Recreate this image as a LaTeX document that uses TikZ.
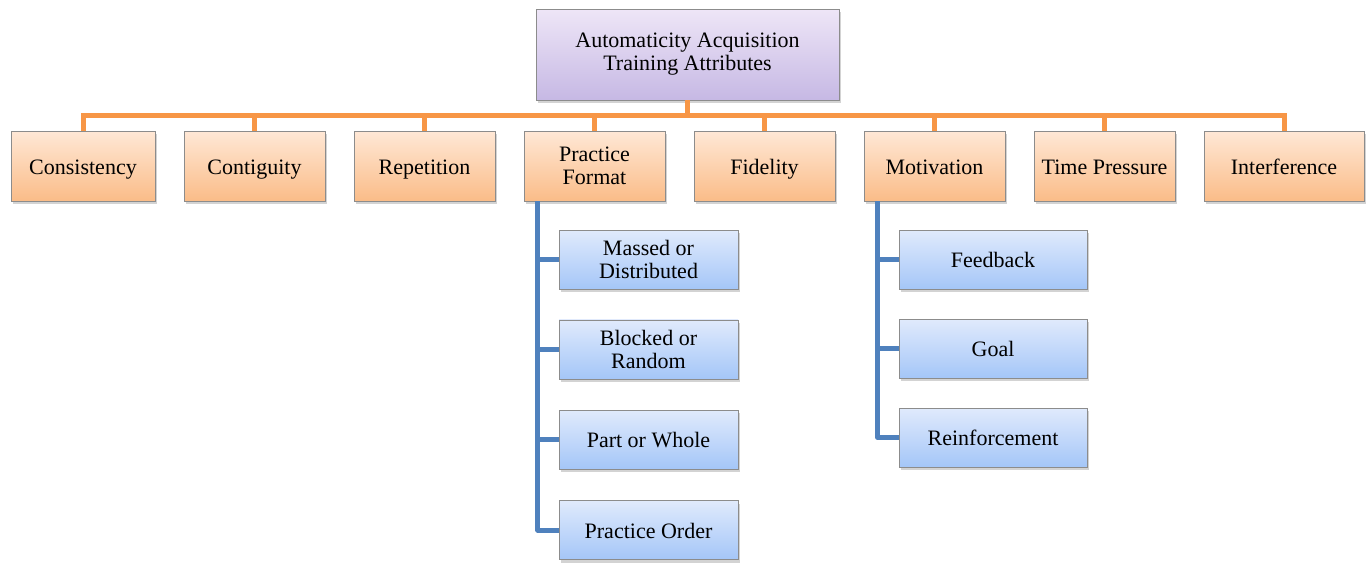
\documentclass[tikz,border=0pt]{standalone}
\usepackage{fontspec}
\setmainfont{Liberation Serif}
\usetikzlibrary{shapes, shadows, positioning}
\definecolor{rootTop}{RGB}{238,230,247}
\definecolor{rootBot}{RGB}{198,184,228}
\definecolor{attrTop}{RGB}{255,232,214}
\definecolor{attrBot}{RGB}{250,188,136}
\definecolor{subTop}{RGB}{224,234,252}
\definecolor{subBot}{RGB}{164,198,248}
\definecolor{branchOrange}{RGB}{247,150,70}
\definecolor{branchBlue}{RGB}{79,129,189}
\tikzstyle{box} = [draw=black!45, rectangle, align=center, inner sep=2pt,
    drop shadow={shadow xshift=2pt, shadow yshift=-3pt, opacity=0.35},
    font=\fontsize{22}{23}\selectfont]
\tikzstyle{root} = [box, top color=rootTop, bottom color=rootBot,
    minimum width=303pt, minimum height=91pt]
\tikzstyle{attr} = [box, top color=attrTop, bottom color=attrBot,
    minimum width=141pt, minimum height=70pt]
\tikzstyle{sub} = [box, top color=subTop, bottom color=subBot,
    minimum width=179pt, minimum height=59pt]
\tikzstyle{oneline} = [text height=18pt, text depth=2pt]
\tikzstyle{orangeline} = [draw=branchOrange, line width=5pt]
\tikzstyle{blueline} = [draw=branchBlue, line width=5pt, line join=round]

\begin{document}
\begin{tikzpicture}[auto, x=1pt, y=1pt, node distance=28.6pt]
    \useasboundingbox (0,0) rectangle (1369,-563);
    % root
    \node [root] (root) at (687.5,-54.5) {Automaticity Acquisition\\Training Attributes};
    % attributes
    \node [attr, oneline, minimum width=144pt] (cons) at (83,-166) {Consistency};
    \node [attr, oneline, right=of cons] (contig) {Contiguity};
    \node [attr, oneline, right=of contig] (rep) {Repetition};
    \node [attr, right=of rep] (format) {Practice\\Format};
    \node [attr, oneline, right=of format] (fid) {Fidelity};
    \node [attr, oneline, right=of fid] (motiv) {Motivation};
    \node [attr, oneline, right=of motiv] (time) {Time Pressure};
    \node [attr, oneline, right=of time, minimum width=160pt] (inter) {Interference};
    % practice format
    \node [sub, below right=29pt and 35pt of format.south west] (massed) {Massed or\\Distributed};
    \node [sub, below=30pt of massed] (blocked) {Blocked or\\Random};
    \node [sub, oneline, below=31pt of blocked] (whole) {Part or Whole};
    \node [sub, oneline, below=31pt of whole] (order) {Practice Order};
    % motivation
    \node [sub, oneline, minimum width=188pt, below right=29pt and 35pt of motiv.south west] (feed) {Feedback};
    \node [sub, oneline, minimum width=188pt, below=29.5pt of feed] (goal) {Goal};
    \node [sub, oneline, minimum width=188pt, below=29.5pt of goal] (reinf) {Reinforcement};
    % connectors
    \foreach \n in {cons, contig, rep, format, fid, motiv, time, inter}
        \draw [orangeline] (root.south) -- ++(0,-15) -| (\n.north);
    \foreach \n in {massed, blocked, whole, order}
        \draw [blueline] ([xshift=14pt]format.south west) |- (\n.west);
    \foreach \n in {feed, goal, reinf}
        \draw [blueline] ([xshift=14pt]motiv.south west) |- (\n.west);
\end{tikzpicture}
\end{document}
